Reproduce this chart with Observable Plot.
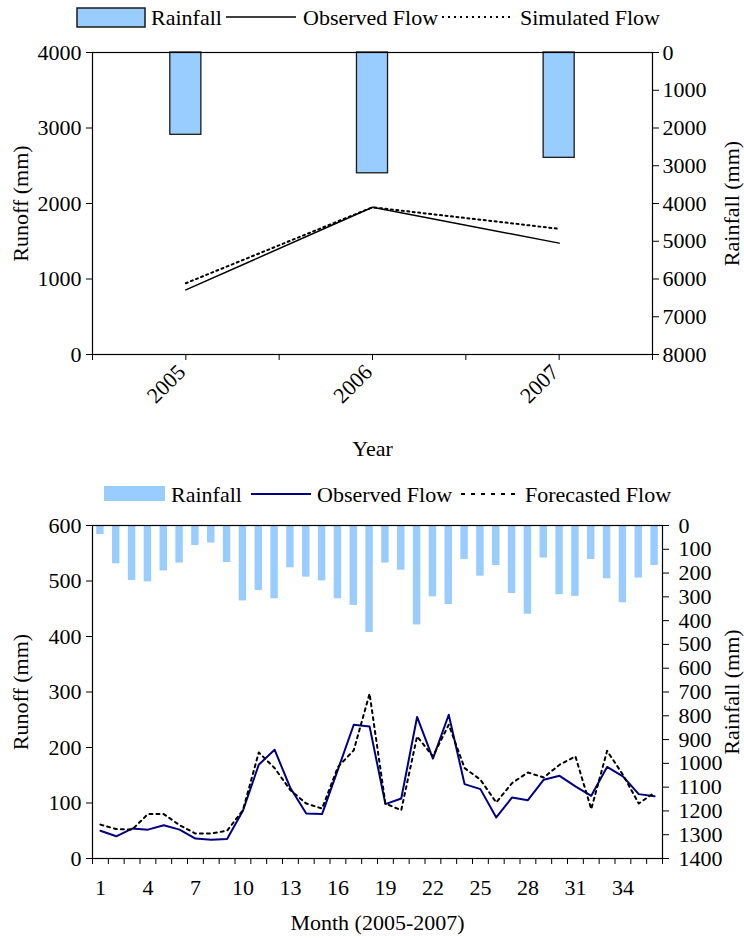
<!DOCTYPE html>
<html>
<head>
<meta charset="utf-8">
<script src="https://cdn.jsdelivr.net/npm/d3@7"></script>
<script src="https://cdn.jsdelivr.net/npm/@observablehq/plot@0.6"></script>
<style>
  html, body { margin: 0; padding: 0; background: #fff; }
  #root { position: relative; width: 744px; height: 938px; overflow: hidden;
          font-family: "Liberation Serif", "Times New Roman", serif; }
  #root svg, #root svg text { font-family: "Liberation Serif", "Times New Roman", serif !important; }
  #root svg text { font-size: 22px; }
  .layer { position: absolute; left: 0; }
  .legend { position: absolute; left: 0; }
  .legend text { fill: #000; }
</style>
</head>
<body>
<div id="root"></div>
<script>
// ---------- Annual chart data ----------
const years = [2005, 2006, 2007];
const annualRainfall = [2180, 3200, 2790];
const annualObserved = [856, 1950, 1475];
const annualSimulated = [944, 1950, 1665];
const runoffTicksTop = [0, 1000, 2000, 3000, 4000];
const rainTicksTop = [0, 1000, 2000, 3000, 4000, 5000, 6000, 7000, 8000];

// ---------- Monthly chart data ----------
const months = [1,2,3,4,5,6,7,8,9,10,11,12,13,14,15,16,17,18,19,20,21,22,23,24,25,26,27,28,29,30,31,32,33,34,35,36];
const monthlyRainfall = [38,161,231,237,191,158,84,74,156,317,273,308,178,217,233,308,336,450,158,188,418,300,332,143,213,168,286,373,137,291,298,143,224,325,221,168];
const monthlyObserved = [50,40,54,52,60,52,36,34,35,86,169,196,127,81,80,160,241,238,98,108,255,180,259,134,125,74,110,105,142,149,130,113,165,148,116,112];
const monthlyForecast = [61,53,52,80,80,60,45,45,50,87,191,163,123,99,90,165,195,297,99,87,220,184,241,163,142,101,136,155,146,169,184,89,194,151,99,119];
const monthLabels = [1,4,7,10,13,16,19,22,25,28,31,34];
const runoffTicksBottom = [0,100,200,300,400,500,600];
const rainTicksBottom = [0,100,200,300,400,500,600,700,800,900,1000,1100,1200,1300,1400];

const annual = years.map((year, i) => ({year, rain: annualRainfall[i], observed: annualObserved[i], simulated: annualSimulated[i]}));
const monthly = months.map((month, i) => ({month, rain: monthlyRainfall[i], observed: monthlyObserved[i], forecast: monthlyForecast[i]}));

const FONT = '"Liberation Serif", "Times New Roman", serif';
const baseStyle = {background: "transparent", fontFamily: FONT, fontSize: "22px", color: "black", overflow: "visible"};
const root = document.getElementById("root");

function place(svg, top) {
  svg.classList.add("layer");
  svg.style.top = top + "px";
  svg.style.position = "absolute";
  svg.style.left = "0px";
  root.appendChild(svg);
}

const titleOpts = {textAnchor: "middle", lineAnchor: "middle", rotate: -90};

// ---------- Top chart ----------
const topGeom = {width: 744, height: 465, marginTop: 52, marginBottom: 111, marginLeft: 92, marginRight: 92};
const yearBounds = [years[0] - 0.5].concat(years.flatMap(y => [y, y + 0.5]));

const topBack = Plot.plot({
  ...topGeom,
  style: baseStyle,
  x: {domain: [years[0] - 0.5, years[years.length - 1] + 0.5], axis: null},
  y: {domain: [0, 8000], reverse: true},
  marks: [
    Plot.rect(annual, {x1: d => d.year - 0.5, x2: d => d.year + 0.5, y1: 0, y2: "rain",
      insetLeft: 77.8, insetRight: 77.8, fill: "#99ccff", stroke: "#1a1a1a", strokeWidth: 1.3}),
    Plot.axisY({anchor: "right", ticks: rainTicksTop, tickFormat: "d", tickSize: 6, tickPadding: 4, label: null}),
    Plot.text(["Rainfall (mm)"], {text: d => d, frameAnchor: "right", dx: 79, ...titleOpts}),
    Plot.frame({stroke: "black", strokeWidth: 1.2})
  ]
});

const topFront = Plot.plot({
  ...topGeom,
  style: baseStyle,
  x: {domain: [years[0] - 0.5, years[years.length - 1] + 0.5]},
  y: {domain: [0, 4000]},
  marks: [
    Plot.axisY({anchor: "left", ticks: runoffTicksTop, tickFormat: "d", tickSize: 6, tickPadding: 5, label: null}),
    Plot.axisX({ticks: yearBounds, tickFormat: () => "", tickSize: 6, label: null}),
    Plot.axisX({ticks: years, tickFormat: "d", tickSize: 0, tickRotate: -45, tickPadding: 12, dx: -4, dy: 2, label: null}),
    Plot.text(["Runoff (mm)"], {text: d => d, frameAnchor: "left", dx: -72, ...titleOpts}),
    Plot.text(["Year"], {text: d => d, frameAnchor: "bottom", dy: 94, lineAnchor: "middle"}),
    Plot.line(annual, {x: "year", y: "observed", stroke: "black", strokeWidth: 1.5}),
    Plot.line(annual, {x: "year", y: "simulated", stroke: "black", strokeWidth: 2, strokeDasharray: "2,3.5"})
  ]
});

place(topBack, 0);
place(topFront, 0);

// ---------- Bottom chart ----------
const botGeom = {width: 744, height: 473, marginTop: 60, marginBottom: 80, marginLeft: 92, marginRight: 82};
const monthBounds = [months[0] - 0.5].concat(months.map(m => m + 0.5));
const monthDomain = [months[0] - 0.5, months[months.length - 1] + 0.5];

const botBack = Plot.plot({
  ...botGeom,
  style: baseStyle,
  x: {domain: monthDomain, axis: null},
  y: {domain: [0, 1400], reverse: true},
  marks: [
    Plot.rect(monthly, {x1: d => d.month - 0.5, x2: d => d.month + 0.5, y1: 0, y2: "rain",
      insetLeft: 4.2, insetRight: 4.2, fill: "#99ccff"}),
    Plot.axisY({anchor: "right", ticks: rainTicksBottom, tickFormat: "d", tickSize: 6, tickPadding: 10, label: null}),
    Plot.text(["Rainfall (mm)"], {text: d => d, frameAnchor: "right", dx: 69, ...titleOpts}),
    Plot.frame({stroke: "black", strokeWidth: 1.2})
  ]
});

const botFront = Plot.plot({
  ...botGeom,
  style: baseStyle,
  x: {domain: monthDomain},
  y: {domain: [0, 600]},
  marks: [
    Plot.axisY({anchor: "left", ticks: runoffTicksBottom, tickFormat: "d", tickSize: 6, tickPadding: 5, label: null}),
    Plot.axisX({ticks: monthBounds, tickFormat: () => "", tickSize: 6, label: null}),
    Plot.axisX({ticks: monthLabels, tickFormat: "d", tickSize: 0, tickPadding: 21, label: null}),
    Plot.text(["Runoff (mm)"], {text: d => d, frameAnchor: "left", dx: -72, ...titleOpts}),
    Plot.text(["Month (2005-2007)"], {text: d => d, frameAnchor: "bottom", dy: 64, lineAnchor: "middle"}),
    Plot.line(monthly, {x: "month", y: "observed", stroke: "#000080", strokeWidth: 2}),
    Plot.line(monthly, {x: "month", y: "forecast", stroke: "black", strokeWidth: 2, strokeDasharray: "3,4"})
  ]
});

place(botBack, 465);
place(botFront, 465);

// ---------- Legends ----------
const NS = "http://www.w3.org/2000/svg";
function legend(top, items) {
  const svg = document.createElementNS(NS, "svg");
  svg.setAttribute("width", 744);
  svg.setAttribute("height", 34);
  svg.setAttribute("class", "legend");
  svg.style.top = top + "px";
  for (const it of items) {
    let el;
    if (it.type === "rect") {
      el = document.createElementNS(NS, "rect");
      el.setAttribute("x", it.x); el.setAttribute("y", it.y);
      el.setAttribute("width", it.w); el.setAttribute("height", it.h);
      el.setAttribute("fill", it.fill);
      if (it.stroke) { el.setAttribute("stroke", it.stroke); el.setAttribute("stroke-width", it.sw); }
    } else if (it.type === "line") {
      el = document.createElementNS(NS, "line");
      el.setAttribute("x1", it.x1); el.setAttribute("x2", it.x2);
      el.setAttribute("y1", 17); el.setAttribute("y2", 17);
      el.setAttribute("stroke", it.stroke); el.setAttribute("stroke-width", it.sw);
      if (it.dash) el.setAttribute("stroke-dasharray", it.dash);
    } else {
      el = document.createElementNS(NS, "text");
      el.setAttribute("x", it.x); el.setAttribute("y", 17);
      el.setAttribute("dy", "0.35em");
      el.textContent = it.text;
    }
    svg.appendChild(el);
  }
  root.appendChild(svg);
}

legend(0, [
  {type: "rect", x: 77, y: 8, w: 68, h: 19, fill: "#99ccff", stroke: "#1a1a1a", sw: 1.5},
  {type: "text", x: 151, text: "Rainfall"},
  {type: "line", x1: 226, x2: 296, stroke: "black", sw: 1.5},
  {type: "text", x: 303, text: "Observed Flow"},
  {type: "line", x1: 442, x2: 513, stroke: "black", sw: 2, dash: "2,4"},
  {type: "text", x: 520, text: "Simulated Flow"}
]);

legend(477, [
  {type: "rect", x: 104, y: 9, w: 61, h: 15, fill: "#99ccff"},
  {type: "text", x: 171, text: "Rainfall"},
  {type: "line", x1: 251, x2: 311, stroke: "#000080", sw: 2},
  {type: "text", x: 317, text: "Observed Flow"},
  {type: "line", x1: 461, x2: 517, stroke: "black", sw: 2, dash: "4,6"},
  {type: "text", x: 525, text: "Forecasted Flow"}
]);
</script>
</body>
</html>
